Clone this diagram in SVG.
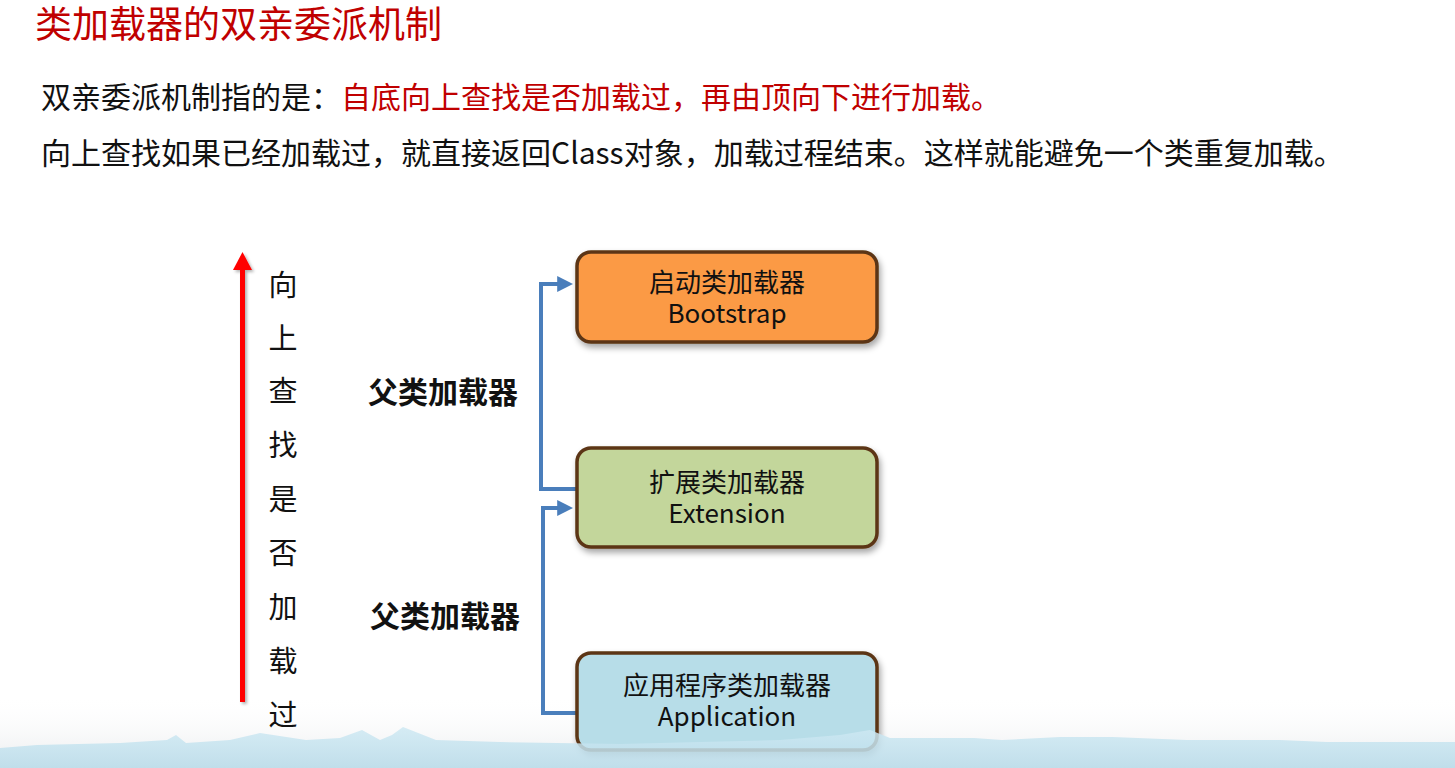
<svg xmlns="http://www.w3.org/2000/svg" width="1455" height="768" viewBox="0 0 1455 768">
  <defs>
    <style>
      .cjk { font-family: "Noto Sans CJK SC", "Noto Sans", sans-serif; }
      .title { font-size: 37px; fill: #c00000; }
      .body { font-size: 30px; fill: #111111; }
      .red { fill: #c00000; }
      .vert { font-size: 29px; fill: #111111; text-anchor: middle; }
      .parent { font-size: 30px; font-weight: bold; fill: #111111; }
      .box { stroke: #5b3614; stroke-width: 3.5; filter: url(#shadow); }
      .boxtext { font-size: 26px; fill: #111111; text-anchor: middle; }
      .conn { fill: none; stroke: #4a7ebb; stroke-width: 4; }
    </style>
    <filter id="shadow" x="-10%" y="-20%" width="125%" height="150%">
      <feDropShadow dx="2" dy="4" stdDeviation="3" flood-color="#000" flood-opacity="0.35"/>
    </filter>
    <filter id="lshadow" x="-100%" y="-5%" width="300%" height="110%">
      <feDropShadow dx="2" dy="2" stdDeviation="1.5" flood-color="#000" flood-opacity="0.3"/>
    </filter>
    <marker id="blueArrow" markerWidth="4" markerHeight="4" refX="2.2" refY="2" orient="auto" markerUnits="strokeWidth">
      <path d="M0,0 L4,2 L0,4 Z" fill="#4a7ebb"/>
    </marker>
    <linearGradient id="bottomFade" x1="0" y1="0" x2="0" y2="1">
      <stop offset="0" stop-color="#ffffff" stop-opacity="0"/>
      <stop offset="1" stop-color="#e8eaec"/>
    </linearGradient>
    <linearGradient id="wave" x1="0" y1="0" x2="0" y2="1">
      <stop offset="0" stop-color="#cfe9f3"/>
      <stop offset="1" stop-color="#b9dcea"/>
    </linearGradient>
  </defs>

  <rect x="0" y="0" width="1455" height="768" fill="#ffffff"/>
  <rect x="0" y="695" width="1455" height="73" fill="url(#bottomFade)"/>

  <!-- Title and description -->
  <text class="cjk title" x="35" y="38">类加载器的双亲委派机制</text>
  <text class="cjk body" x="41" y="108">双亲委派机制指的是：<tspan class="red">自底向上查找是否加载过，再由顶向下进行加载。</tspan></text>
  <text class="cjk body" x="41" y="164">向上查找如果已经加载过，就直接返回Class对象，加载过程结束。这样就能避免一个类重复加载。</text>

  <!-- Red upward arrow with vertical label -->
  <g id="upArrow">
    <g filter="url(#lshadow)">
      <rect x="240" y="266" width="5" height="436" fill="#ff0000"/>
      <path d="M233,270 L242.5,252 L252,270 Z" fill="#ff0000"/>
    </g>
    <g class="cjk vert">
      <text x="283" y="296">向</text>
      <text x="283" y="349">上</text>
      <text x="283" y="402">查</text>
      <text x="283" y="456">找</text>
      <text x="283" y="510">是</text>
      <text x="283" y="564">否</text>
      <text x="283" y="618">加</text>
      <text x="283" y="672">载</text>
      <text x="283" y="726">过</text>
    </g>
  </g>

  <!-- Connectors -->
  <g id="connectors">
    <polyline class="conn" points="577,489 541,489 541,284 566,284" marker-end="url(#blueArrow)"/>
    <polyline class="conn" points="577,713 543,713 543,508 566,508" marker-end="url(#blueArrow)"/>
  </g>

  <g id="label-parent-1">
    <text class="cjk parent" x="368" y="403">父类加载器</text>
  </g>
  <g id="label-parent-2">
    <text class="cjk parent" x="370" y="627">父类加载器</text>
  </g>

  <!-- Nodes -->
  <g id="node-bootstrap">
    <rect class="box" x="577" y="252" width="300" height="90" rx="14" ry="14" fill="#fb9a45"/>
    <text class="cjk boxtext" x="727" y="292">启动类加载器</text>
    <text class="cjk boxtext" x="727" y="323">Bootstrap</text>
  </g>
  <g id="node-extension">
    <rect class="box" x="577" y="448" width="300" height="99" rx="14" ry="14" fill="#c3d69b"/>
    <text class="cjk boxtext" x="727" y="492">扩展类加载器</text>
    <text class="cjk boxtext" x="727" y="523">Extension</text>
  </g>
  <g id="node-application">
    <rect class="box" x="577" y="653" width="300" height="97" rx="14" ry="14" fill="#b7dde8"/>
    <text class="cjk boxtext" x="727" y="695">应用程序类加载器</text>
    <text class="cjk boxtext" x="727" y="726">Application</text>
  </g>

  <!-- Bottom wave decoration -->
  <path d="M0,748 L37,745 L120,743 L167,740 L176,735 L186,743 L230,740 L260,733 L306,740 L340,738 L362,730 L380,740 L392,735 L403,727 L436,740 L500,742 L557,743 L620,744 L700,742 L780,740 L840,735 L870,730 L890,738 L974,738 L1002,740 L1060,737 L1113,737 L1187,740 L1280,740 L1327,742 L1455,742 L1455,768 L0,768 Z" fill="url(#wave)" opacity="0.85"/>
</svg>
